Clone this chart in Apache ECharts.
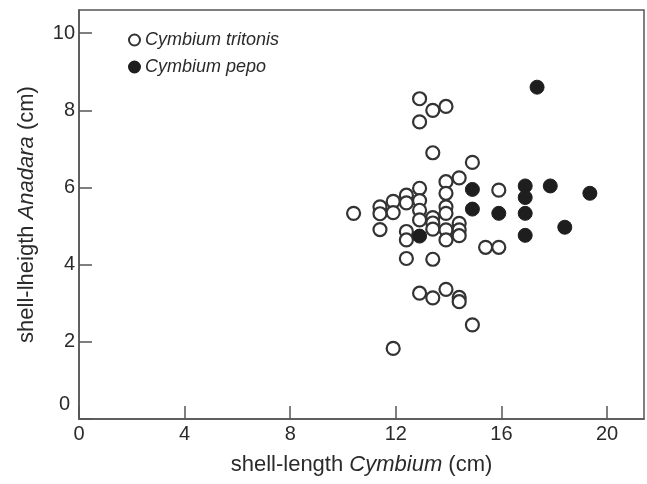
<!DOCTYPE html>
<html>
<head>
<meta charset="utf-8">
<script src="https://cdn.jsdelivr.net/npm/echarts@6/dist/echarts.min.js"></script>
<style>
  html, body { margin: 0; padding: 0; background: #fff; }
  #chart { width: 647px; height: 484px; }
</style>
</head>
<body>
<div id="chart"></div>
<script>
// Cymbium tritonis (open circles): [shell length, shell height]
const tritonis = [
  [12.9, 8.3], [13.4, 8.0], [13.9, 8.1], [12.9, 7.7], [13.4, 6.9], [14.9, 6.65],
  [13.9, 6.15], [14.4, 6.25], [13.9, 5.85], [12.9, 5.98], [12.4, 5.8], [11.9, 5.64],
  [12.4, 5.6], [12.9, 5.66], [15.9, 5.93], [10.4, 5.33], [11.4, 5.5], [11.4, 5.32],
  [11.9, 5.35], [11.4, 4.91], [12.9, 5.41], [12.9, 5.16], [13.4, 5.22], [13.4, 5.08],
  [13.4, 4.92], [13.9, 5.5], [13.9, 5.33], [13.9, 4.9], [13.9, 4.64], [14.4, 5.07],
  [14.4, 4.9], [14.4, 4.75], [12.4, 4.86], [12.4, 4.64], [12.4, 4.16], [13.4, 4.14],
  [15.4, 4.45], [15.9, 4.45], [12.9, 3.26], [13.4, 3.14], [13.9, 3.36], [14.4, 3.15],
  [14.4, 3.04], [14.9, 2.44], [11.9, 1.83]
]
// Cymbium pepo (filled circles)
const pepo = [
  [17.35, 8.6], [14.9, 5.95], [14.9, 5.44], [15.9, 5.33], [16.9, 6.04], [16.9, 5.74],
  [16.9, 5.33], [16.9, 4.76], [17.85, 6.04], [19.35, 5.85], [18.4, 4.97], [12.9, 4.74]
]
const xTicks = [0, 4, 8, 12, 16, 20]
const yTicks = [0, 2, 4, 6, 8, 10]

const textColor = '#2a2a2a'
const lineColor = '#555'
const font = 'Liberation Sans, Arial, sans-serif'

const chart = echarts.init(document.getElementById('chart'))

chart.setOption({
  animation: false,
  textStyle: { fontFamily: font, color: textColor },
  grid: {
    left: 79,
    right: 3,
    top: 10,
    bottom: 65,
    show: true,
    borderColor: lineColor,
    borderWidth: 1.5
  },
  legend: {
    orient: 'vertical',
    left: 123,
    top: 26,
    itemWidth: 11,
    itemHeight: 11,
    itemGap: 9,
    textStyle: {
      fontSize: 18,
      fontStyle: 'italic',
      color: textColor,
      fontFamily: font
    },
    data: [
      { name: 'Cymbium tritonis', icon: 'circle' },
      { name: 'Cymbium pepo', icon: 'circle' }
    ]
  },
  xAxis: {
    type: 'value',
    min: 0,
    max: 21.4,
    interval: 4,
    name: '{n|shell-length }{i|Cymbium}{n| (cm)}',
    nameLocation: 'middle',
    nameGap: 35,
    nameTextStyle: {
      rich: {
        n: { fontSize: 22, color: textColor, fontFamily: font },
        i: { fontSize: 22, color: textColor, fontFamily: font, fontStyle: 'italic' }
      }
    },
    splitLine: { show: false },
    axisLine: { lineStyle: { color: lineColor, width: 1.5 } },
    axisTick: {
      inside: true,
      length: 13,
      lineStyle: { color: lineColor, width: 1.5 },
      customValues: xTicks
    },
    axisLabel: {
      fontSize: 20,
      color: textColor,
      margin: 5,
      customValues: xTicks
    }
  },
  yAxis: {
    type: 'value',
    min: 0,
    max: 10.6,
    interval: 2,
    name: '{n|shell-lheigth }{i|Anadara}{n| (cm)}',
    nameLocation: 'middle',
    nameGap: 41,
    nameTextStyle: {
      rich: {
        n: { fontSize: 22, color: textColor, fontFamily: font },
        i: { fontSize: 22, color: textColor, fontFamily: font, fontStyle: 'italic' }
      }
    },
    splitLine: { show: false },
    axisLine: { show: true, lineStyle: { color: lineColor, width: 1.5 } },
    axisTick: {
      inside: true,
      length: 13,
      lineStyle: { color: lineColor, width: 1.5 },
      customValues: yTicks
    },
    axisLabel: {
      fontSize: 20,
      color: textColor,
      margin: 4,
      customValues: yTicks,
      formatter: v => (v === 0 ? '{z|0}' : String(v)),
      rich: {
        z: { fontSize: 20, color: textColor, fontFamily: font, padding: [0, 5, 30, 0] }
      }
    }
  },
  series: [
    {
      name: 'Cymbium tritonis',
      type: 'scatter',
      symbol: 'circle',
      symbolSize: 13,
      itemStyle: { color: '#fff', borderColor: '#333', borderWidth: 2.2, opacity: 1 },
      data: tritonis
    },
    {
      name: 'Cymbium pepo',
      type: 'scatter',
      symbol: 'circle',
      symbolSize: 14,
      itemStyle: { color: '#1e1e1e', borderColor: '#1e1e1e', borderWidth: 1, opacity: 1 },
      data: pepo
    }
  ]
})
</script>
</body>
</html>
